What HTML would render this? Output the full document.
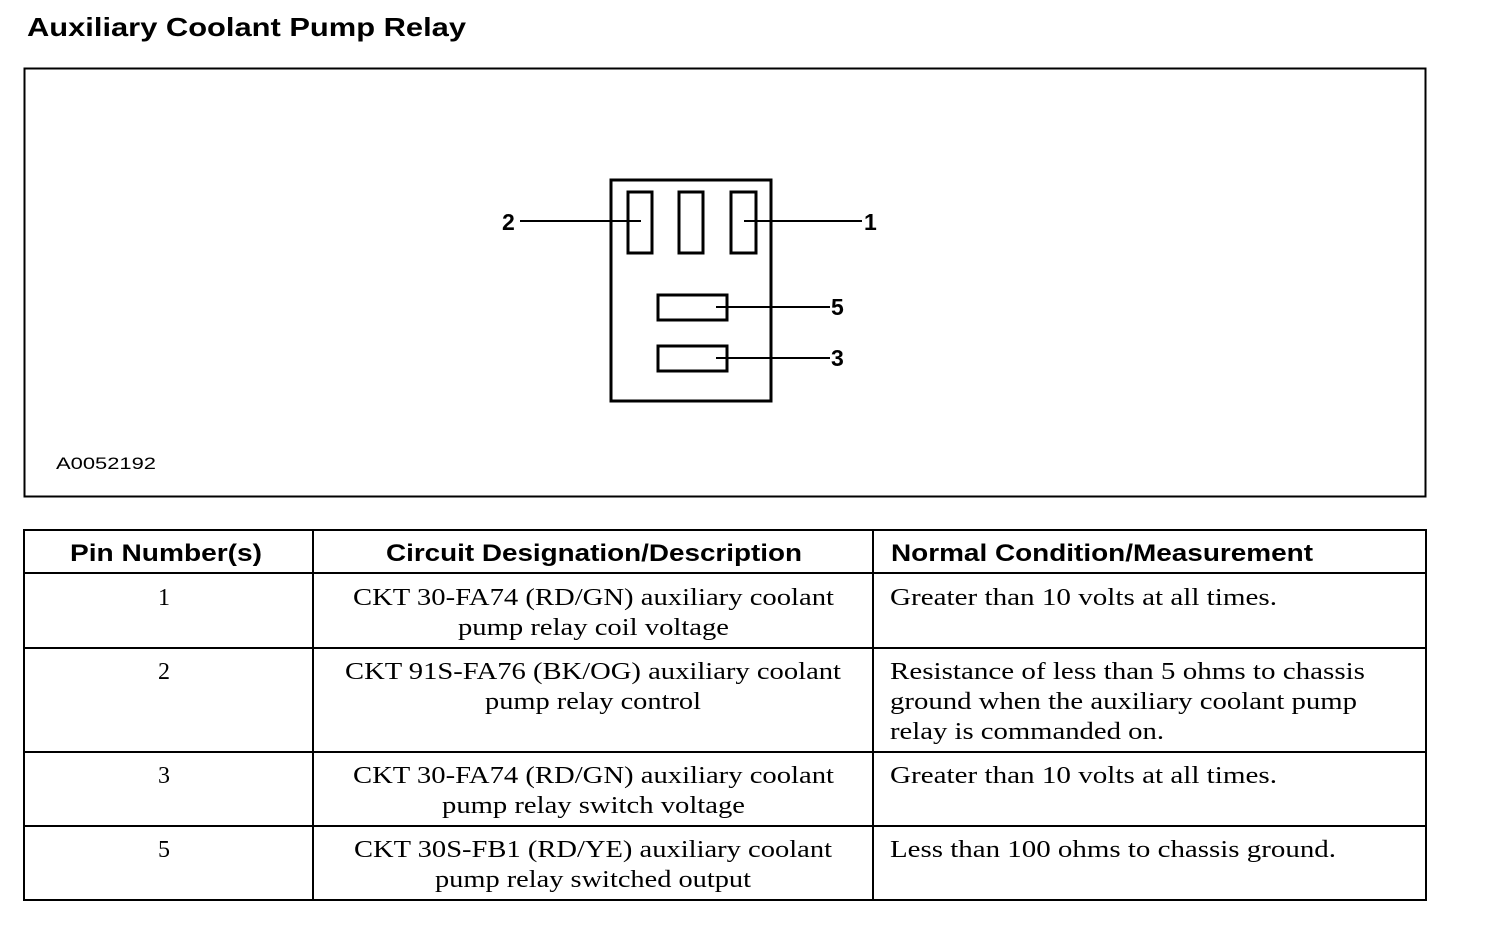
<!DOCTYPE html>
<html><head><meta charset="utf-8"><style>
html,body{margin:0;padding:0;background:#fff;}
svg{display:block;}
.s{font-family:"Liberation Sans",sans-serif;font-weight:bold;}
.r{font-family:"Liberation Serif",serif;font-size:24px;}
</style></head><body>
<svg width="1504" height="940" viewBox="0 0 1504 940" xmlns="http://www.w3.org/2000/svg">
<text x="27" y="36" class="s" font-size="26" textLength="439" lengthAdjust="spacingAndGlyphs">Auxiliary Coolant Pump Relay</text>
<rect x="24.5" y="68.5" width="1401" height="428" fill="none" stroke="#000" stroke-width="2"/>
<rect x="611" y="180" width="160" height="221" fill="none" stroke="#000" stroke-width="3"/>
<rect x="628" y="192" width="24" height="61" fill="none" stroke="#000" stroke-width="3"/>
<rect x="679" y="192" width="24" height="61" fill="none" stroke="#000" stroke-width="3"/>
<rect x="731" y="192" width="25" height="61" fill="none" stroke="#000" stroke-width="3"/>
<rect x="658" y="295" width="69" height="25" fill="none" stroke="#000" stroke-width="3"/>
<rect x="658" y="346" width="69" height="25" fill="none" stroke="#000" stroke-width="3"/>
<g stroke="#000" stroke-width="2">
<line x1="520" y1="221" x2="641" y2="221"/>
<line x1="744" y1="221" x2="862" y2="221"/>
<line x1="716" y1="307" x2="830" y2="307"/>
<line x1="716" y1="358" x2="830" y2="358"/>
</g>
<g class="s" font-size="23">
<text x="502" y="230">2</text>
<text x="864" y="230">1</text>
<text x="831" y="315">5</text>
<text x="831" y="366">3</text>
</g>
<text x="56" y="469" font-family="Liberation Sans, sans-serif" font-size="17" textLength="100" lengthAdjust="spacingAndGlyphs">A0052192</text>
<g stroke="#000" stroke-width="2" fill="none">
<rect x="24" y="530" width="1402" height="370"/>
<line x1="313" y1="530" x2="313" y2="900"/>
<line x1="873" y1="530" x2="873" y2="900"/>
<line x1="24" y1="573" x2="1426" y2="573"/>
<line x1="24" y1="648" x2="1426" y2="648"/>
<line x1="24" y1="752" x2="1426" y2="752"/>
<line x1="24" y1="826" x2="1426" y2="826"/>
</g>
<g class="s" font-size="24">
<text x="70" y="561" textLength="192" lengthAdjust="spacingAndGlyphs">Pin Number(s)</text>
<text x="386" y="561" textLength="416" lengthAdjust="spacingAndGlyphs">Circuit Designation/Description</text>
<text x="891" y="561" textLength="422" lengthAdjust="spacingAndGlyphs">Normal Condition/Measurement</text>
</g>
<g class="r">
<text x="164" y="605" text-anchor="middle">1</text>
<text x="353" y="605" textLength="481" lengthAdjust="spacingAndGlyphs">CKT 30-FA74 (RD/GN) auxiliary coolant</text>
<text x="458" y="635" textLength="271" lengthAdjust="spacingAndGlyphs">pump relay coil voltage</text>
<text x="890" y="605" textLength="387" lengthAdjust="spacingAndGlyphs">Greater than 10 volts at all times.</text>
<text x="164" y="679" text-anchor="middle">2</text>
<text x="345" y="679" textLength="496" lengthAdjust="spacingAndGlyphs">CKT 91S-FA76 (BK/OG) auxiliary coolant</text>
<text x="485" y="709" textLength="216" lengthAdjust="spacingAndGlyphs">pump relay control</text>
<text x="890" y="679" textLength="475" lengthAdjust="spacingAndGlyphs">Resistance of less than 5 ohms to chassis</text>
<text x="890" y="709" textLength="467" lengthAdjust="spacingAndGlyphs">ground when the auxiliary coolant pump</text>
<text x="890" y="739" textLength="274" lengthAdjust="spacingAndGlyphs">relay is commanded on.</text>
<text x="164" y="783" text-anchor="middle">3</text>
<text x="353" y="783" textLength="481" lengthAdjust="spacingAndGlyphs">CKT 30-FA74 (RD/GN) auxiliary coolant</text>
<text x="442" y="813" textLength="303" lengthAdjust="spacingAndGlyphs">pump relay switch voltage</text>
<text x="890" y="783" textLength="387" lengthAdjust="spacingAndGlyphs">Greater than 10 volts at all times.</text>
<text x="164" y="857" text-anchor="middle">5</text>
<text x="354" y="857" textLength="478" lengthAdjust="spacingAndGlyphs">CKT 30S-FB1 (RD/YE) auxiliary coolant</text>
<text x="435" y="887" textLength="316" lengthAdjust="spacingAndGlyphs">pump relay switched output</text>
<text x="890" y="857" textLength="446" lengthAdjust="spacingAndGlyphs">Less than 100 ohms to chassis ground.</text>
</g>
</svg>
</body></html>
